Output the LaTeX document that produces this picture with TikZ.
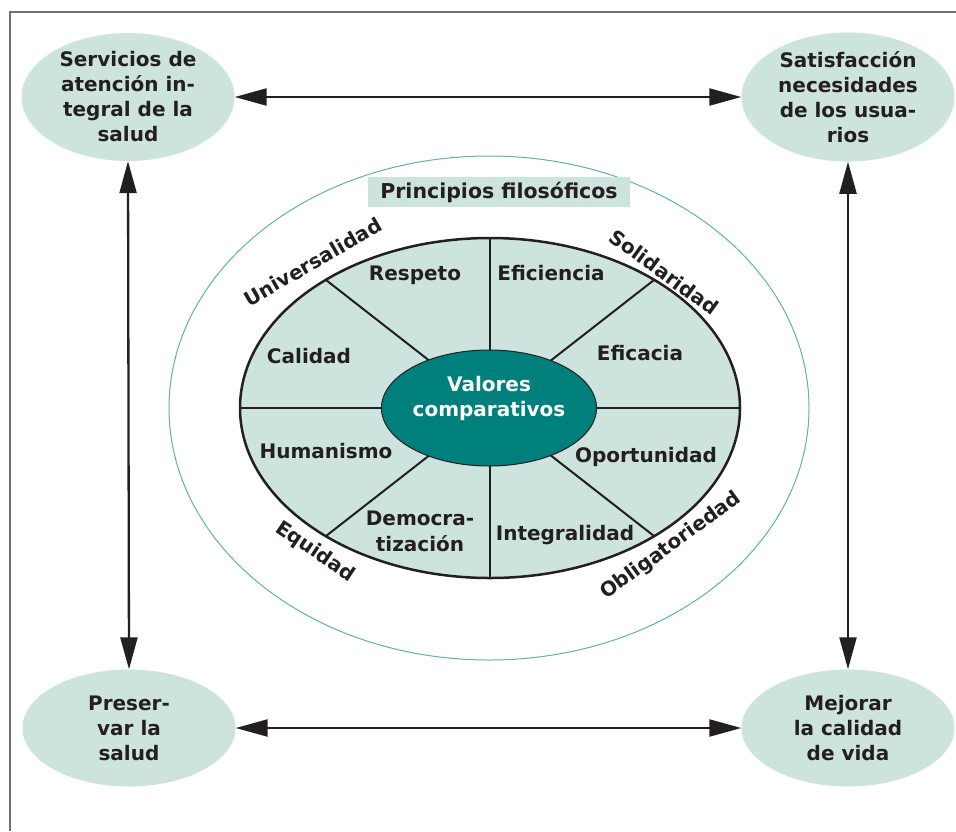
\documentclass[tikz,border=0pt]{standalone}
\usepackage{fontspec}
\setmainfont{DejaVu Sans}
\usetikzlibrary{shapes.geometric,arrows.meta}
\definecolor{lightteal}{HTML}{CDE3DD}
\definecolor{darkteal}{HTML}{00807C}
\definecolor{thinteal}{HTML}{5DB3A8}
\definecolor{txt}{HTML}{231F20}
\definecolor{frame}{HTML}{707070}
\tikzset{
  corner/.style={ellipse, fill=lightteal, minimum width=213pt, minimum height=117pt, inner sep=0pt, align=center, font=\fontsize{20}{25}\selectfont\bfseries, text=txt},
  dbl/.style={line width=2.3pt, draw=txt, {Triangle[length=32pt,width=17pt]}-{Triangle[length=32pt,width=17pt]}},
  seg/.style={font=\fontsize{20}{26}\selectfont\bfseries, text=txt, align=center, inner sep=0pt},
  arclabel/.style={font=\fontsize{20}{24}\selectfont\bfseries, text=txt, inner sep=0pt},
  spoke/.style={line width=2pt, draw=txt}
}
\begin{document}
\begin{tikzpicture}[x=1pt,y=-1pt]
\useasboundingbox (0,0) rectangle (956,831);
% frame
\draw[frame, line width=2pt] (10,831) -- (10,12) -- (956,12);
% outer thin ellipse
\draw[thinteal, line width=1pt] (489,408) ellipse [x radius=320pt, y radius=252pt];
% title box
\node[fill=lightteal, minimum width=262pt, minimum height=30pt, inner sep=0pt, font=\fontsize{20.5}{24}\selectfont\bfseries, text=txt] (title) at (499,192) {Principios filosóficos};
% inner ellipse
\filldraw[fill=lightteal, draw=txt, line width=2.5pt] (490,408) ellipse [x radius=250pt, y radius=170pt];
\coordinate (c) at (490,408);
\coordinate (pt) at (490,238);
\coordinate (pb) at (490,578);
\coordinate (pl) at (240,408);
\coordinate (pr) at (740,408);
\coordinate (pul) at (326,280);
\coordinate (pur) at (654,280);
\coordinate (pll) at (326,536);
\coordinate (plr) at (654,536);
\foreach \p in {pt,pb,pl,pr,pul,pur,pll,plr}{\draw[spoke] (c) -- (\p);}
% center ellipse
\node[ellipse, fill=darkteal, draw=txt, line width=1pt, minimum width=215pt, minimum height=116pt, inner sep=0pt] (val) at (489,408) {};
\node[align=center, text=white, inner sep=0pt, font=\fontsize{20}{25}\selectfont\bfseries] (valtxt) at (489,398) {Valores\\comparativos};
% segment labels
\node[seg] (respeto) at (415,275) {Respeto};
\node[seg] (eficiencia) at (551,273) {Eficiencia};
\node[seg] (calidad) at (309,356) {Calidad};
\node[seg] (eficacia) at (640,353) {Eficacia};
\node[seg] (humanismo) at (326,451) {Humanismo};
\node[seg] (oportunidad) at (646,457) {Oportunidad};
\node[seg] (democ) at (420,531) {Democra-\\tización};
\node[seg] (integ) at (565,535) {Integralidad};
% arc labels
\node[arclabel, rotate=30] (univ) at (313,262) {Universalidad};
\node[arclabel, rotate=-36] (solid) at (664,272) {Solidaridad};
\node[arclabel, rotate=-34] (equid) at (315,552) {Equidad};
\node[arclabel, rotate=36] (oblig) at (671,546) {Obligatoriedad};
% corner ellipses
\node[corner] (tl) at (128,97) {Servicios de\\atención in-\\tegral de la\\salud};
\node[corner] (tr) at (848,97) {Satisfacción\\necesidades\\de los usua-\\rios};
\node[corner] (bl) at (129,728) {Preser-\\var la\\salud};
\node[corner] (br) at (848,728) {Mejorar\\la calidad\\de vida};
% arrows
\draw[dbl] (tl) -- (tr);
\draw[dbl] (bl) -- (br);
\draw[dbl] (tl.south) -- (bl.north);
\draw[dbl] (tr.south) -- (br.north);
\end{tikzpicture}
\end{document}
